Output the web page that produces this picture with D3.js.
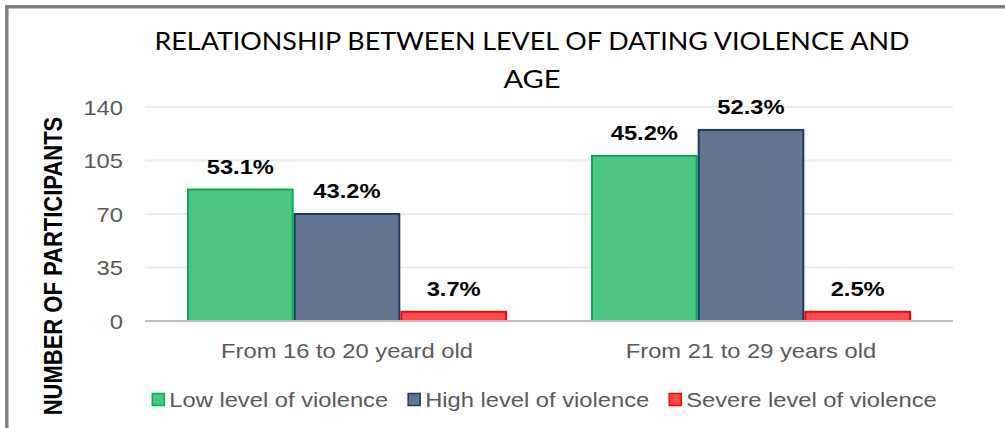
<!DOCTYPE html>
<html>
<head>
<meta charset="utf-8">
<script src="https://cdn.jsdelivr.net/npm/d3@7"></script>
<style>
  body { margin: 0; background: #fff; }
  svg { display: block; }
</style>
</head>
<body>
<div id="chart"></div>
<script>
var categories = ["From 16 to 20 yeard old", "From 21 to 29 years old"];
var seriesNames = ["Low level of violence", "High level of violence", "Severe level of violence"];
var lowValues = [86, 108];
var highValues = [70, 125];
var severeValues = [6, 6];
var lowLabels = ["53.1%", "45.2%"];
var highLabels = ["43.2%", "52.3%"];
var severeLabels = ["3.7%", "2.5%"];
var yTicks = [0, 35, 70, 105, 140];

var fills = ["#4dc681", "#637593", "#ff4b4b"];
var strokes = ["#00b050", "#1f3864", "#ff0000"];

var width = 1005, height = 428;
var SX = 1.13; // the picture is a bit wider than tall, text is stretched too

var svg = d3.select("#chart").append("svg")
  .attr("width", width)
  .attr("height", height)
  .style("font-family", "'Liberation Sans', Arial, sans-serif");

// frame
svg.append("path")
  .attr("d", "M6.8," + height + "V6.8H" + width)
  .attr("fill", "none")
  .attr("stroke", "#808080")
  .attr("stroke-width", 3.5);

function stretchText(sel, x, y, str) {
  return sel.append("text")
    .attr("transform", "translate(" + x + "," + y + ") scale(" + SX + ",1)")
    .text(str);
}

var x0 = d3.scaleBand()
  .domain(categories)
  .range([145, 953])
  .paddingInner(0.208)
  .paddingOuter(0.104);

var x1 = d3.scaleBand()
  .domain(seriesNames)
  .range([0, x0.bandwidth()]);

var y = d3.scaleLinear()
  .domain([0, 140])
  .range([321, 107]);

// title
svg.append("text")
  .attr("x", 532).attr("y", 50)
  .attr("text-anchor", "middle")
  .attr("textLength", 755)
  .attr("lengthAdjust", "spacingAndGlyphs")
  .style("font-family", "Lato, 'Open Sans', sans-serif")
  .style("font-size", "25px")
  .attr("fill", "#000")
  .text("RELATIONSHIP BETWEEN LEVEL OF DATING VIOLENCE AND");
svg.append("text")
  .attr("x", 532).attr("y", 88)
  .attr("text-anchor", "middle")
  .attr("textLength", 57)
  .attr("lengthAdjust", "spacingAndGlyphs")
  .style("font-family", "Lato, 'Open Sans', sans-serif")
  .style("font-size", "25px")
  .attr("fill", "#000")
  .text("AGE");

// grid
svg.append("g").selectAll("line").data(yTicks.filter(function(t) { return t > 0; }))
  .enter().append("line")
  .attr("x1", 145).attr("x2", 953)
  .attr("y1", function(d) { return y(d); })
  .attr("y2", function(d) { return y(d); })
  .attr("stroke", "#ececec")
  .attr("stroke-width", 2);

// y tick labels
var yLab = svg.append("g")
  .attr("fill", "#595959")
  .style("font-size", "21px")
  .attr("text-anchor", "end");
yTicks.forEach(function(t) {
  stretchText(yLab, 123, y(t) + 7.5, String(t));
});

// y axis title
svg.append("text")
  .attr("transform", "translate(62,266) scale(" + SX + ",1) rotate(-90)")
  .attr("text-anchor", "middle")
  .style("font-size", "22px")
  .style("font-weight", "bold")
  .attr("fill", "#000")
  .text("NUMBER OF PARTICIPANTS");

// bars
var allValues = [lowValues, highValues, severeValues];
var allLabels = [lowLabels, highLabels, severeLabels];

var groups = svg.append("g").selectAll("g").data(categories)
  .enter().append("g")
  .attr("transform", function(d) { return "translate(" + x0(d) + ",0)"; });

groups.each(function(cat, ci) {
  var g = d3.select(this);
  seriesNames.forEach(function(s, si) {
    var v = allValues[si][ci];
    g.append("rect")
      .attr("x", x1(s) + 1)
      .attr("y", y(v))
      .attr("width", x1.bandwidth() - 2)
      .attr("height", y(0) - y(v))
      .attr("fill", fills[si])
      .attr("stroke", strokes[si])
      .attr("stroke-width", 2);
  });
});

// zero line
svg.append("line")
  .attr("x1", 145).attr("x2", 953)
  .attr("y1", y(0)).attr("y2", y(0))
  .attr("stroke", "#bfbfbf")
  .attr("stroke-width", 2);

// value labels
groups.each(function(cat, ci) {
  var g = d3.select(this)
    .append("g")
    .attr("text-anchor", "middle")
    .style("font-size", "21px")
    .style("font-weight", "bold")
    .attr("fill", "#000");
  seriesNames.forEach(function(s, si) {
    var v = allValues[si][ci];
    stretchText(g, x1(s) + x1.bandwidth() / 2, y(v) - 16, allLabels[si][ci]);
  });
});

// category labels
var catG = svg.append("g")
  .attr("fill", "#595959")
  .style("font-size", "21px")
  .attr("text-anchor", "middle");
categories.forEach(function(c) {
  stretchText(catG, x0(c) + x0.bandwidth() / 2, 358, c);
});

// legend
var legend = svg.append("g")
  .style("font-size", "21px")
  .attr("fill", "#595959");
var lx = 0;
seriesNames.forEach(function(s, si) {
  var item = legend.append("g").attr("transform", "translate(" + lx + ",0)");
  item.append("rect")
    .attr("x", 1).attr("y", 393.5)
    .attr("width", 12).attr("height", 12)
    .attr("fill", fills[si])
    .attr("stroke", strokes[si])
    .attr("stroke-width", 1.5);
  var t = stretchText(item, 18, 407, s);
  var w = t.node().getBBox().width * SX;
  lx += 18 + w + 19;
});
var legendWidth = lx - 19;
legend.attr("transform", "translate(" + (544 - legendWidth / 2) + ",0)");
</script>
</body>
</html>
